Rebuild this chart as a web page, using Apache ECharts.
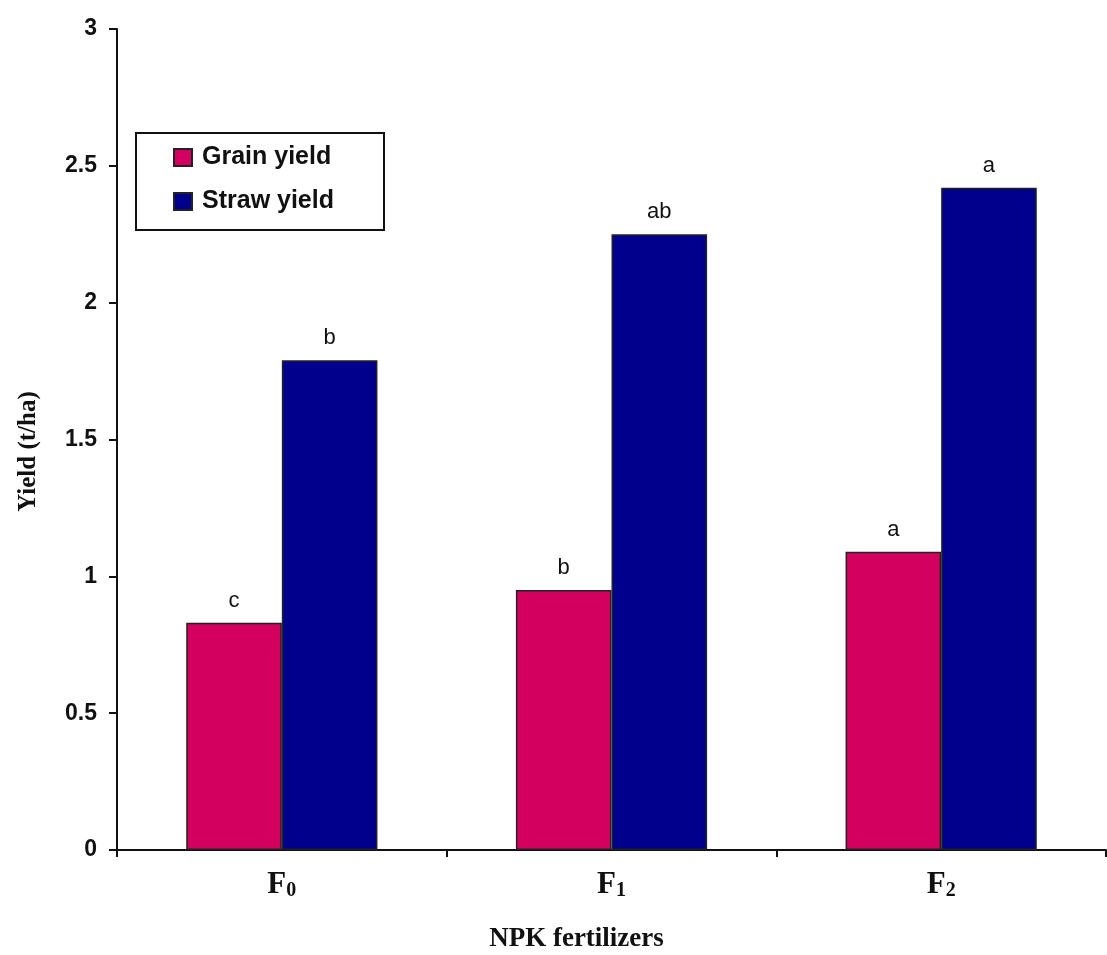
<!DOCTYPE html>
<html>
<head>
<meta charset="utf-8">
<script src="https://cdn.jsdelivr.net/npm/echarts@6/dist/echarts.min.js"></script>
<style>html,body{margin:0;padding:0;background:#fff;}#c{width:1107px;height:955px;}</style>
</head>
<body>
<div id="c"></div>
<script>
const categories = ['F0', 'F1', 'F2'];
const subscripts = ['0', '1', '2'];
const grainYield = [0.83, 0.95, 1.09];
const strawYield = [1.79, 2.25, 2.42];
const grainLetters = ['c', 'b', 'a'];
const strawLetters = ['b', 'ab', 'a'];
const yTicks = { min: 0, max: 3, interval: 0.5 };

const chart = echarts.init(document.getElementById('c'));
const letterLabel = (letters) => ({
  show: true, position: 'top', distance: 11,
  formatter: p => letters[p.dataIndex],
  fontFamily: 'Arial, Liberation Sans, sans-serif', fontSize: 22, color: '#111'
});
chart.setOption({
  backgroundColor: '#fff',
  animation: false,
  grid: { left: 117, right: 1, top: 29, bottom: 105, containLabel: false, outerBoundsMode: 'none' },
  legend: {
    orient: 'vertical', left: 136, top: 133,
    backgroundColor: '#fff',
    borderColor: '#111', borderWidth: 2,
    padding: [12, 50, 16, 37],
    itemGap: 19, itemWidth: 18, itemHeight: 17,
    icon: 'rect',
    textStyle: { fontFamily: 'Arial, Liberation Sans, sans-serif', fontWeight: 'bold', fontSize: 25, color: '#111', padding: [0, 0, 0, 5] },
    data: ['Grain yield', 'Straw yield']
  },
  xAxis: {
    type: 'category', data: categories,
    axisLine: { lineStyle: { color: '#111', width: 2 } },
    axisTick: { show: true, length: 7, lineStyle: { color: '#111', width: 2 } },
    axisLabel: {
      margin: 18,
      formatter: (v, i) => '{f|F}{s|' + subscripts[i] + '}',
      rich: {
        f: { fontFamily: 'Times New Roman, Liberation Serif, serif', fontWeight: 'bold', fontSize: 31, color: '#111' },
        s: { fontFamily: 'Times New Roman, Liberation Serif, serif', fontWeight: 'bold', fontSize: 20, color: '#111', verticalAlign: 'bottom', padding: [13, 0, 0, 0] }
      }
    },
    name: 'NPK fertilizers', nameLocation: 'middle', nameGap: 76,
    nameTextStyle: { fontFamily: 'Times New Roman, Liberation Serif, serif', fontWeight: 'bold', fontSize: 27, color: '#111', padding: [0, 70, 0, 0] }
  },
  yAxis: {
    type: 'value', min: yTicks.min, max: yTicks.max, interval: yTicks.interval,
    splitLine: { show: false },
    axisLine: { show: true, lineStyle: { color: '#111', width: 2 } },
    axisTick: { show: true, length: 8, lineStyle: { color: '#111', width: 2 } },
    axisLabel: { margin: 20, fontFamily: 'Arial, Liberation Sans, sans-serif', fontWeight: 'bold', fontSize: 23, color: '#111' },
    name: 'Yield (t/ha)', nameLocation: 'middle', nameGap: 76,
    nameTextStyle: { fontFamily: 'Times New Roman, Liberation Serif, serif', fontWeight: 'bold', fontSize: 25, color: '#111', padding: [0, 24, 0, 0] }
  },
  series: [
    { name: 'Grain yield', type: 'bar', data: grainYield, barWidth: '29%', barGap: '0%',
      itemStyle: { color: '#D4005F', borderColor: '#222', borderWidth: 1.5 },
      label: letterLabel(grainLetters) },
    { name: 'Straw yield', type: 'bar', data: strawYield, barWidth: '29%', barGap: '0%',
      itemStyle: { color: '#00008C', borderColor: '#222', borderWidth: 1.5 },
      label: letterLabel(strawLetters) }
  ]
});
</script>
</body>
</html>
